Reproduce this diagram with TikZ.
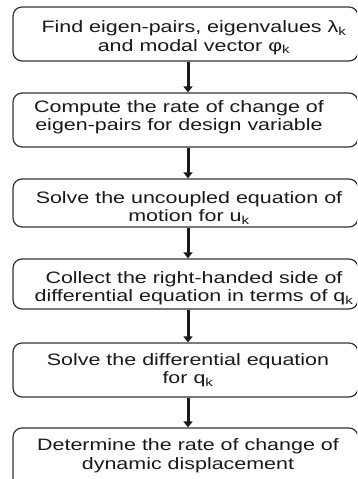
\documentclass[tikz,border=0pt]{standalone}
\usepackage{fontspec}
\setmainfont[FakeStretch=1.30]{Liberation Sans}
\usetikzlibrary{arrows.meta}
\begin{document}
\begin{tikzpicture}[x=1pt,y=-1pt,
  box/.style={draw=black!80, line width=1.2pt, rounded corners=9pt, inner sep=0pt, minimum width=345pt},
  txt/.style={align=center, font=\fontsize{16.5}{18.5}\selectfont, inner sep=0pt, text=black!90},
  arr/.style={line width=3pt, draw=black!90, -{Triangle[width=9pt,length=6pt]}}]
\useasboundingbox (0,0) rectangle (357,479);
\clip (0,0) rectangle (357,479);
\coordinate (ax) at (188,0);
% boxes
\node[box, minimum height=54pt] (b1) at (185.5,34) {};
\node[box, minimum height=54pt] (b2) at (185.5,120) {};
\node[box, minimum height=48pt] (b3) at (185.5,203) {};
\node[box, minimum height=50pt] (b4) at (185.5,284) {};
\node[box, minimum height=54pt] (b5) at (185.5,370) {};
\node[box, minimum height=72pt] (b6) at (185.5,464) {};
% texts
\node[txt] (t1) at (194,37.5) {Find eigen-pairs, eigenvalues λ\textsubscript{k}\\and modal vector φ\textsubscript{k}};
\node[txt] (t2) at (179,117) {Compute the rate of change of\\eigen-pairs for design variable};
\node[txt] (t3) at (189,208) {Solve the uncoupled equation of\\motion for u\textsubscript{k}};
\node[txt] (t4) at (194,288) {Collect the right-handed side of\\differential equation in terms of q\textsubscript{k}};
\node[txt] (t5) at (188,370) {Solve the differential equation\\for q\textsubscript{k}};
\node[txt] (t6) at (188,455.5) {Determine the rate of change of\\dynamic displacement};
% arrows
\draw[arr] (b1.south -| ax) -- (b2.north -| ax);
\draw[arr] (b2.south -| ax) -- (b3.north -| ax);
\draw[arr] (b3.south -| ax) -- (b4.north -| ax);
\draw[arr] (b4.south -| ax) -- (b5.north -| ax);
\draw[arr] (b5.south -| ax) -- (b6.north -| ax);
\end{tikzpicture}
\end{document}
